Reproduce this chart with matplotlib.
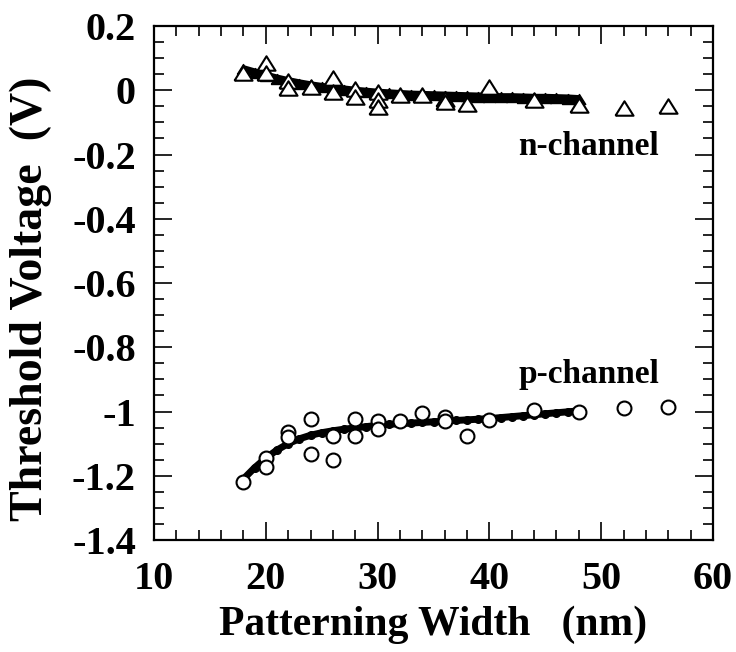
import numpy as np
import matplotlib.pyplot as plt
from matplotlib.ticker import MultipleLocator

plt.rcParams['font.family'] = ['Liberation Serif', 'DejaVu Serif']
plt.rcParams['font.weight'] = 'bold'
plt.rcParams['axes.labelweight'] = 'bold'

# measured threshold voltages, n-channel devices
n_width = [18, 20, 20, 22, 22, 24, 26, 26, 28, 28, 30, 30, 30,
           32, 34, 36, 36, 38, 40, 44, 48, 52, 56]
n_vth = [0.055, 0.086, 0.053, 0.030, 0.006, 0.009, 0.039, -0.007, 0.003, -0.020,
         -0.004, -0.030, -0.051, -0.015, -0.015, -0.028, -0.036, -0.043, 0.011,
         -0.030, -0.046, -0.056, -0.049]

# measured threshold voltages, p-channel devices
p_width = [18, 20, 20, 22, 22, 24, 24, 26, 26, 28, 28, 30, 30,
           32, 34, 36, 36, 38, 40, 44, 48, 52, 56]
p_vth = [-1.220, -1.144, -1.172, -1.064, -1.080, -1.022, -1.131, -1.077, -1.151,
         -1.022, -1.077, -1.030, -1.056, -1.030, -1.005, -1.016, -1.030, -1.077,
         -1.027, -0.996, -1.001, -0.988, -0.985]

# simulated curves
sim_width = list(range(18, 49))
n_sim = [0.065, 0.055, 0.045, 0.036, 0.028, 0.021, 0.015, 0.010, 0.006, 0.002,
         -0.002, -0.005, -0.008, -0.010, -0.012, -0.014, -0.015, -0.016, -0.017,
         -0.018, -0.019, -0.020, -0.021, -0.022, -0.022, -0.023, -0.024, -0.024,
         -0.025, -0.026, -0.028]
p_sim = [-1.210, -1.175, -1.145, -1.120, -1.100, -1.085, -1.074, -1.066, -1.060,
         -1.055, -1.051, -1.047, -1.043, -1.040, -1.038, -1.036, -1.034, -1.032,
         -1.030, -1.028, -1.026, -1.024, -1.022, -1.019, -1.016, -1.013, -1.010,
         -1.007, -1.004, -1.001, -0.998]

# flattened triangle marker
tri = [(-1, -0.8), (1, -0.8), (0, 0.8), (-1, -0.8)]

fig = plt.figure(figsize=(7.36, 6.52), dpi=100)
ax = fig.add_axes([154 / 736, 1 - 540 / 652, (713 - 154) / 736, (540 - 26) / 652])

ax.plot(sim_width, n_sim, color='black', lw=6, solid_capstyle='butt', zorder=2)
ax.plot(sim_width, n_sim, ls='none', marker=tri, ms=9, color='black', zorder=2)
ax.plot(sim_width, p_sim, color='black', lw=5, solid_capstyle='butt', zorder=2)
ax.plot(sim_width, p_sim, ls='none', marker='o', ms=5.5, color='black', zorder=2)

ax.plot(n_width, n_vth, ls='none', marker=tri, ms=13, mfc='white', mec='black',
        mew=1.5, zorder=3)
ax.plot(p_width, p_vth, ls='none', marker='o', ms=10, mfc='white', mec='black',
        mew=1.5, zorder=3)

ax.text(48.9, -0.176, 'n-channel', fontsize=24, ha='center', va='center')
ax.text(48.9, -0.885, 'p-channel', fontsize=24, ha='center', va='center')

ax.set_xlim(10, 60)
ax.set_ylim(-1.4, 0.2)
ax.xaxis.set_major_locator(MultipleLocator(10))
ax.xaxis.set_minor_locator(MultipleLocator(2))
ax.yaxis.set_minor_locator(MultipleLocator(0.05))
ax.set_yticks(np.arange(-1.4, 0.21, 0.2))
ax.set_yticklabels(['-1.4', '-1.2', '-1', '-0.8', '-0.6', '-0.4', '-0.2', '0', '0.2'])

ax.tick_params(which='both', direction='in', top=True, right=True, width=1.2,
               labelsize=29)
ax.tick_params(which='major', length=13)
ax.tick_params(which='minor', length=7)
ax.tick_params(axis='x', pad=15)
ax.tick_params(axis='y', pad=13)
for s in ax.spines.values():
    s.set_linewidth(1.6)

ax.set_xlabel('Patterning Width   (nm)', fontsize=30, va='center')
ax.xaxis.set_label_coords(0.5, -0.165)
ax.set_ylabel('Threshold Voltage  (V)', fontsize=33, va='center')
ax.yaxis.set_label_coords(-0.22, 0.47)

fig.savefig('out.png', dpi=100)
